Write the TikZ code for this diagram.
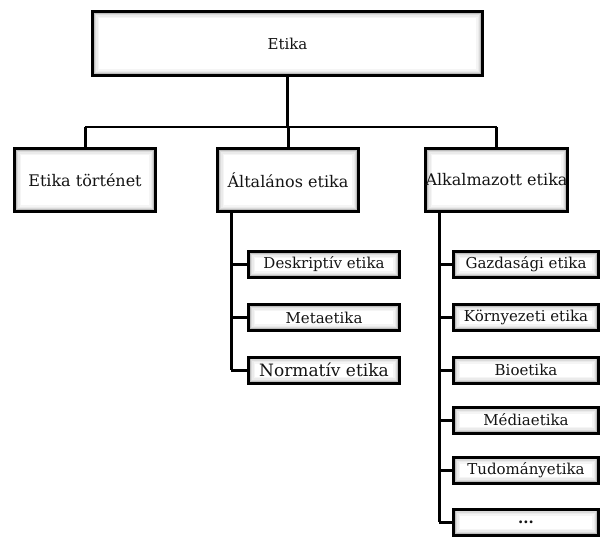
\documentclass[tikz,border=0pt]{standalone}
\usepackage{fontspec}
\setmainfont{DejaVu Serif}
\begin{document}
\begin{tikzpicture}[x=1pt,y=-1pt,
  glowbox/.style={rectangle, draw=black, line width=3pt, fill=white, inner sep=0pt,
    text=black!92, font=\fontsize{16}{19}\selectfont,
    path picture={
      \foreach \w/\c in {13/4,10/8,7/14,4.5/26,2.5/45}
        \draw[black!\c, line width=\w pt] (path picture bounding box.south west) rectangle (path picture bounding box.north east);
    }},
  bigbox/.style={glowbox, minimum width=141pt, minimum height=63pt},
  subbox/.style={glowbox, minimum height=26pt, font=\fontsize{15}{18}\selectfont},
  trunk/.style={line width=3pt},
  bus/.style={line width=2pt}
]
\useasboundingbox (0,0) rectangle (600,538);

% top
\node[glowbox, minimum width=390pt, minimum height=64pt, font=\fontsize{15}{18}\selectfont] (etika) at (287.5,43.5) {Etika};

% second row
\node[bigbox] (tort) at (85,180) {Etika történet};
\node[bigbox] (alt) at (288,180) {Általános etika};
\node[bigbox] (alk) at (496.5,180) {Alkalmazott etika};

% bus
\coordinate (busL) at (85,127);
\coordinate (busR) at (497,127);
\draw[bus] (busL) -- (busR);
\draw[trunk] (etika.south) -- (etika.south |- busL);
\draw[trunk] (tort.north) -- (tort.north |- busL);
\draw[trunk] (alt.north) -- (alt.north |- busL);
\draw[trunk] (alk.north) -- (alk.north |- busL);

% left sub boxes
\node[subbox, minimum width=151pt] (desk) at (324,264.5) {Deskriptív etika};
\node[subbox, minimum width=151pt] (meta) at (324,317.5) {Metaetika};
\node[subbox, minimum width=151pt, font=\fontsize{17}{20}\selectfont] (norm) at (324,370) {Normatív etika};

\coordinate (lt) at (231,213);
\draw[trunk] (lt) -- (lt |- norm.west);
\draw[trunk] (lt |- desk.west) -- (desk.west);
\draw[trunk] (lt |- meta.west) -- (meta.west);
\draw[trunk] (lt |- norm.west) -- (norm.west);

% right sub boxes
\node[subbox, minimum width=145pt] (gazd) at (526,264.5) {Gazdasági etika};
\node[subbox, minimum width=145pt] (korny) at (526,317.5) {Környezeti etika};
\node[subbox, minimum width=145pt] (bio) at (526,370) {Bioetika};
\node[subbox, minimum width=145pt] (media) at (526,420) {Médiaetika};
\node[subbox, minimum width=145pt] (tud) at (526,470) {Tudományetika};
\node[subbox, minimum width=145pt] (dots) at (526,522) {\textbf{...}};

\coordinate (rt) at (439,213);
\draw[trunk] (rt) -- (rt |- dots.west);
\foreach \n in {gazd,korny,bio,media,tud,dots}
  \draw[trunk] (rt |- \n.west) -- (\n.west);
\end{tikzpicture}
\end{document}
